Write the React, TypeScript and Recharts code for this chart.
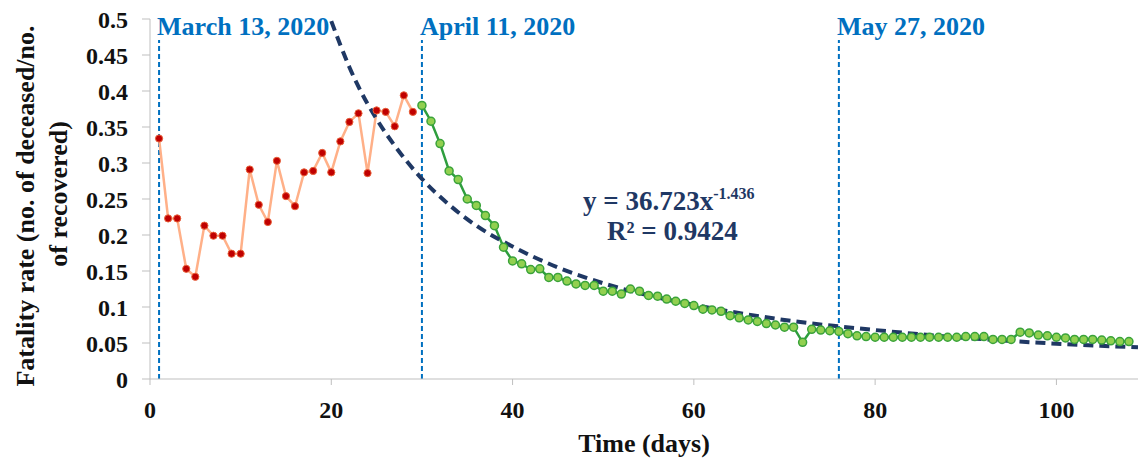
import React from 'react';
import { LineChart, Line, XAxis, YAxis, ReferenceLine } from 'recharts';

document.body.style.margin = '0';

// early phase (red) - one value per day starting at day 1
const redStartDay = 1;
const redRates = [
  0.334, 0.223, 0.223, 0.153, 0.142, 0.213, 0.199, 0.199, 0.174, 0.174,
  0.291, 0.242, 0.218, 0.303, 0.254, 0.240, 0.287, 0.289, 0.314, 0.287,
  0.330, 0.357, 0.369, 0.286, 0.373, 0.371, 0.351, 0.394, 0.371,
];

// later phase (green) - one value per day starting at day 30
const greenStartDay = 30;
const greenRates = [
  0.380, 0.358, 0.327, 0.289, 0.277, 0.250, 0.241, 0.227, 0.213, 0.183,
  0.164, 0.160, 0.152, 0.153, 0.141, 0.141, 0.136, 0.132, 0.130, 0.130,
  0.122, 0.122, 0.118, 0.125, 0.122, 0.116, 0.115, 0.111, 0.108, 0.105,
  0.102, 0.097, 0.096, 0.094, 0.088, 0.085, 0.082, 0.080, 0.077, 0.075,
  0.072, 0.072, 0.051, 0.069, 0.068, 0.067, 0.066, 0.063, 0.060, 0.059,
  0.058, 0.058, 0.058, 0.058, 0.058, 0.058, 0.058, 0.058, 0.058, 0.058,
  0.059, 0.059, 0.059, 0.055, 0.055, 0.055, 0.065, 0.064, 0.061, 0.060,
  0.058, 0.057, 0.055, 0.055, 0.055, 0.054, 0.053, 0.052, 0.052,
];

// power trendline
const trendDays = [20, 21, 22, 23, 25, 27, 30, 33, 36, 40, 45, 50, 55, 60, 70, 80, 90, 100, 109];
const trendRates = [
  0.497, 0.464, 0.433, 0.406, 0.361, 0.324, 0.278, 0.242, 0.213, 0.184,
  0.155, 0.133, 0.116, 0.103, 0.082, 0.068, 0.057, 0.049, 0.044,
];

const markerDays = [1, 30, 76];
const markerLabels = ['March 13, 2020', 'April 11, 2020', 'May 27, 2020'];

const xTicks = [0, 20, 40, 60, 80, 100];
const yTicks = [0, 0.05, 0.1, 0.15, 0.2, 0.25, 0.3, 0.35, 0.4, 0.45, 0.5];

const redData = redRates.map((v, i) => ({ day: redStartDay + i, rate: v }));
const greenData = greenRates.map((v, i) => ({ day: greenStartDay + i, rate: v }));
const trendData = trendDays.map((d, i) => ({ day: d, rate: trendRates[i] }));

const FONT = '"Liberation Serif", "Times New Roman", serif';
const BLUE = '#0070C0';
const NAVY = '#1F3864';

const markerLabel = (text: string) => (props: any) => {
  const { x, y } = props.viewBox;
  return (
    <g>
      <rect x={x - 3} y={y - 4} width={text.length * 12.4} height={25} fill="#fff" />
      <text x={x - 2} y={y + 16} fontFamily={FONT} fontWeight="bold" fontSize={26} fill={BLUE}>
        {text}
      </text>
    </g>
  );
};

const yTitle = (props: any) => {
  const { y, height } = props.viewBox;
  const cy = y + height / 2;
  return (
    <g fontFamily={FONT} fontWeight="bold" fontSize={26} fill="#111">
      <text x={25} y={cy + 7} transform={`rotate(-90 25 ${cy + 7})`} textAnchor="middle" dominantBaseline="central">
        Fatality rate (no. of deceased/no.
      </text>
      <text x={58} y={cy - 5} transform={`rotate(-90 58 ${cy - 5})`} textAnchor="middle" dominantBaseline="central">
        of recovered)
      </text>
    </g>
  );
};

const xTitle = (props: any) => {
  const { x, y, width } = props.viewBox;
  return (
    <text x={x + width / 2} y={y + 73} textAnchor="middle"
      fontFamily={FONT} fontWeight="bold" fontSize={26} fill="#111">
      Time (days)
    </text>
  );
};

const tickStyle = { fontFamily: FONT, fontWeight: 'bold', fontSize: 24, fill: '#111' };

export default function App() {
  return (
    <div style={{ position: 'relative', width: 1140, height: 458, background: '#fff' }}>
      <LineChart width={1140} height={458} margin={{ top: 19, right: 2, bottom: 0, left: 0 }}>
        <XAxis
          type="number"
          dataKey="day"
          domain={[0, 109]}
          ticks={xTicks}
          allowDataOverflow
          height={79}
          tick={tickStyle}
          tickSize={6}
          tickMargin={16}
          stroke="#BFBFBF"
          label={{ content: xTitle }}
        />
        <YAxis
          type="number"
          dataKey="rate"
          domain={[0, 0.5]}
          ticks={yTicks}
          allowDataOverflow
          width={150}
          tick={tickStyle}
          tickSize={8}
          tickMargin={14}
          stroke="#BFBFBF"
          label={{ content: yTitle }}
        />
        {markerDays.map((d, i) => (
          <ReferenceLine
            key={d}
            x={d}
            stroke={BLUE}
            strokeWidth={2}
            strokeDasharray="5 3"
            label={{ content: markerLabel(markerLabels[i]) }}
          />
        ))}
        <Line
          data={redData}
          dataKey="rate"
          type="linear"
          stroke="#FFB088"
          strokeWidth={2.5}
          dot={{ r: 3.6, fill: '#C00000', stroke: '#E8603A', strokeWidth: 1 }}
          isAnimationActive={false}
        />
        <Line
          data={greenData}
          dataKey="rate"
          type="linear"
          stroke="#2E9E3E"
          strokeWidth={2.5}
          dot={{ r: 4, fill: '#92D050', stroke: '#3AA33A', strokeWidth: 1.5 }}
          isAnimationActive={false}
        />
        <Line
          data={trendData}
          dataKey="rate"
          type="monotone"
          stroke={NAVY}
          strokeWidth={4}
          strokeDasharray="10 6"
          dot={false}
          isAnimationActive={false}
        />
      </LineChart>
      <svg width={1140} height={458} style={{ position: 'absolute', left: 0, top: 0, pointerEvents: 'none' }}>
        <g fontFamily={FONT} fontWeight="bold" fill={NAVY}>
          <text x={583} y={210} fontSize={27}>
            y = 36.723x
            <tspan fontSize={16} dy={-11}>-1.436</tspan>
          </text>
          <text x={607} y={240} fontSize={27}>R² = 0.9424</text>
        </g>
      </svg>
    </div>
  );
}
